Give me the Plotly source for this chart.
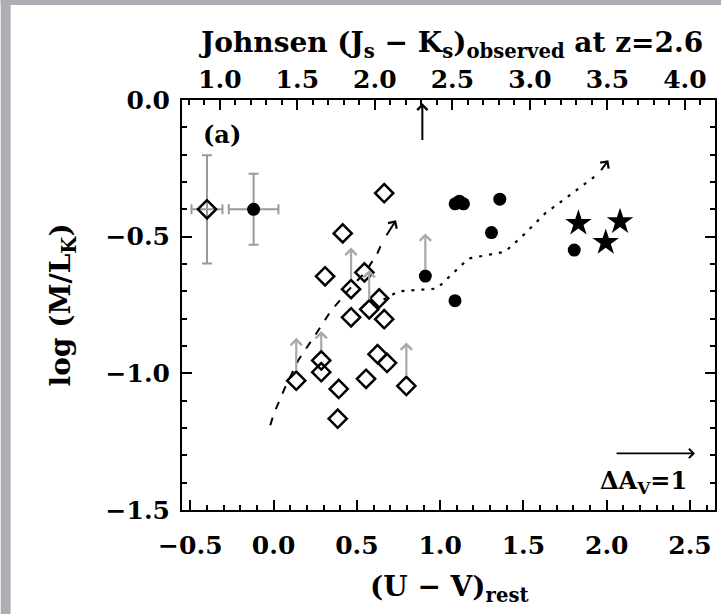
import plotly.graph_objects as go

# ---------------- data ----------------
diamond_x = [0.664, 0.415, 0.309, 0.545, 0.465, 0.634, 0.574, 0.465, 0.664,
             0.286, 0.286, 0.136, 0.391, 0.385, 0.555, 0.624, 0.681, 0.797]
diamond_y = [-0.341, -0.488, -0.645, -0.631, -0.692, -0.726, -0.766, -0.795, -0.802,
             -0.953, -0.996, -1.027, -1.057, -1.166, -1.020, -0.930, -0.962, -1.046]

circle_x = [0.911, 1.089, 1.090, 1.115, 1.140, 1.358, 1.308, 1.805]
circle_y = [-0.644, -0.734, -0.380, -0.370, -0.380, -0.363, -0.485, -0.549]

star_x = [1.830, 1.994, 2.080]
star_y = [-0.451, -0.521, -0.445]

# points with error bars
err_diamond = dict(x=[-0.40], y=[-0.40], ex=[0.093], ey=[0.198])
err_circle = dict(x=[-0.12], y=[-0.40], ex=[0.149], ey=[0.13])

# lower limits (grey arrows): x, base y, tip y
limit_x = [0.136, 0.286, 0.465, 0.574, 0.797, 0.911]
limit_y0 = [-0.995, -0.920, -0.660, -0.735, -1.013, -0.625]
limit_y1 = [-0.870, -0.845, -0.540, -0.622, -0.887, -0.488]

# black arrow (off-scale object)
top_arrow_x = [0.893]
top_arrow_y0 = [-0.152]
top_arrow_y1 = [-0.012]

# model tracks
dash_x = [-0.02, 0.0, 0.07, 0.15, 0.25, 0.34, 0.45, 0.55, 0.62, 0.66]
dash_y = [-1.19, -1.15, -1.05, -0.95, -0.86, -0.775, -0.695, -0.63, -0.565, -0.51]
dot_x = [0.66, 0.75, 0.98, 1.17, 1.39, 1.49, 1.63, 1.87, 1.95]
dot_y = [-0.73, -0.70, -0.69, -0.58, -0.555, -0.50, -0.415, -0.305, -0.27]

# extinction vector
av_x = [2.05, 2.53]
av_y = [-1.293, -1.293]

x_range = [-0.55, 2.65]
x2_range = [0.756, 4.194]
y_range = [-1.5, 0.0]

FONT = "DejaVu Serif"
GREY = "#9a9a9a"
LGREY = "#a8a8a8"
BG = "#afadb4"

# plot-area geometry in pixels (for the outer frame only)
L, R, T, B = 182, 6, 100, 104
PW, PH = 723 - L - R, 614 - T - B

fig = go.Figure()

fig.add_trace(go.Scatter(x=dash_x, y=dash_y, mode="lines",
                         line=dict(color="black", width=2, dash="8px,9px"),
                         showlegend=False, hoverinfo="skip"))
fig.add_trace(go.Scatter(x=dot_x, y=dot_y, mode="lines",
                         line=dict(color="black", width=2.2, dash="3px,7px"),
                         showlegend=False, hoverinfo="skip"))

fig.add_trace(go.Scatter(x=diamond_x, y=diamond_y, mode="markers",
                         marker=dict(symbol="diamond-open", size=14, color="black",
                                     line=dict(width=2.5, color="black")),
                         showlegend=False))
fig.add_trace(go.Scatter(x=circle_x, y=circle_y, mode="markers",
                         marker=dict(symbol="circle", size=13, color="black"),
                         showlegend=False))
fig.add_trace(go.Scatter(x=star_x, y=star_y, mode="markers",
                         marker=dict(symbol="star", size=20, color="black"),
                         showlegend=False))

fig.add_trace(go.Scatter(x=err_diamond["x"], y=err_diamond["y"], mode="markers",
                         marker=dict(symbol="diamond-open", size=14, color="black",
                                     line=dict(width=2.5, color="black")),
                         error_x=dict(type="data", array=err_diamond["ex"], color=GREY,
                                      thickness=2, width=5),
                         error_y=dict(type="data", array=err_diamond["ey"], color=GREY,
                                      thickness=2, width=5),
                         showlegend=False))
fig.add_trace(go.Scatter(x=err_circle["x"], y=err_circle["y"], mode="markers",
                         marker=dict(symbol="circle", size=13, color="black"),
                         error_x=dict(type="data", array=err_circle["ex"], color=GREY,
                                      thickness=2, width=5),
                         error_y=dict(type="data", array=err_circle["ey"], color=GREY,
                                      thickness=2, width=5),
                         showlegend=False))

# dummy trace for the top axis
fig.add_trace(go.Scatter(x=x2_range, y=[None, None], xaxis="x2", yaxis="y",
                         mode="markers", showlegend=False, hoverinfo="skip"))

annotations = []
for xx, y0, y1 in zip(limit_x, limit_y0, limit_y1):
    annotations.append(dict(x=xx, y=y1, ax=xx, ay=y0, xref="x", yref="y",
                            axref="x", ayref="y", text="", showarrow=True,
                            arrowhead=4, arrowsize=1, arrowwidth=2.2,
                            arrowcolor=LGREY, standoff=0, startstandoff=0))
for xx, y0, y1 in zip(top_arrow_x, top_arrow_y0, top_arrow_y1):
    annotations.append(dict(x=xx, y=y1, ax=xx, ay=y0, xref="x", yref="y",
                            axref="x", ayref="y", text="", showarrow=True,
                            arrowhead=4, arrowsize=1, arrowwidth=2,
                            arrowcolor="black", standoff=0, startstandoff=0))
# arrow heads of the model tracks
annotations.append(dict(x=0.735, y=-0.44, ax=0.672, ay=-0.50, xref="x", yref="y",
                        axref="x", ayref="y", text="", showarrow=True, arrowhead=4,
                        arrowsize=1, arrowwidth=2, arrowcolor="black",
                        standoff=0, startstandoff=0))
annotations.append(dict(x=2.01, y=-0.22, ax=1.96, ay=-0.262, xref="x", yref="y",
                        axref="x", ayref="y", text="", showarrow=True, arrowhead=4,
                        arrowsize=1, arrowwidth=2, arrowcolor="black",
                        standoff=0, startstandoff=0))
# extinction arrow
annotations.append(dict(x=av_x[1], y=av_y[1], ax=av_x[0], ay=av_y[0], xref="x", yref="y",
                        axref="x", ayref="y", text="", showarrow=True, arrowhead=4,
                        arrowsize=1, arrowwidth=1.8, arrowcolor="black",
                        standoff=0, startstandoff=0))
annotations.append(dict(x=2.22, y=-1.397, xref="x", yref="y", text="ΔA<sub>V</sub>=1",
                        showarrow=False, xanchor="center", yanchor="middle",
                        font=dict(family=FONT, size=24, color="black", weight="bold")))
annotations.append(dict(x=-0.31, y=-0.125, xref="x", yref="y", text="(a)",
                        showarrow=False, xanchor="center", yanchor="middle",
                        font=dict(family=FONT, size=24, color="black", weight="bold")))

# axis titles
TFONT = dict(family=FONT, size=28, color="black", weight="bold")
annotations.append(dict(x=0.5, y=(510 - 588) / PH, xref="paper", yref="paper",
                        text="(U − V)<sub>rest</sub>", showarrow=False,
                        xanchor="center", yanchor="middle", font=TFONT))
annotations.append(dict(x=(452 - L) / PW, y=(510 - 44) / PH, xref="paper", yref="paper",
                        text="Johnsen (J<sub>s</sub> − K<sub>s</sub>)<sub>observed</sub> at z=2.6",
                        showarrow=False, xanchor="center", yanchor="middle", font=TFONT))
annotations.append(dict(x=(62 - L) / PW, y=0.5, xref="paper", yref="paper",
                        text="log (M/L<sub>K</sub>)", showarrow=False, textangle=-90,
                        xanchor="center", yanchor="middle", font=TFONT))

axis_common = dict(showgrid=False, zeroline=False, showline=True, linewidth=2,
                   linecolor="black", ticks="inside", ticklen=10, tickwidth=2,
                   tickcolor="black", tickformat=".1f",
                   tickfont=dict(family=FONT, size=25, color="black", weight="bold"))

fig.update_layout(
    width=723, height=614, autosize=False,
    margin=dict(l=L, r=R, t=T, b=B),
    paper_bgcolor="white", plot_bgcolor="white",
    xaxis=dict(range=x_range, tickmode="linear", tick0=-0.5, dtick=0.5, mirror=False,
               ticklabelstandoff=12,
               minor=dict(tickmode="linear", tick0=-0.5, dtick=0.1, ticks="inside",
                          ticklen=5, tickwidth=1.5, tickcolor="black"),
               **axis_common),
    xaxis2=dict(range=x2_range, overlaying="x", side="top", anchor="y",
                tickmode="linear", tick0=1.0, dtick=0.5, ticklabelstandoff=0,
                minor=dict(tickmode="linear", tick0=1.0, dtick=0.1, ticks="inside",
                           ticklen=5, tickwidth=1.5, tickcolor="black"),
                **axis_common),
    yaxis=dict(range=y_range, tickmode="linear", tick0=0.0, dtick=0.5, mirror="ticks",
               ticklabelstandoff=5,
               minor=dict(tickmode="linear", tick0=0.0, dtick=0.1, ticks="inside",
                          ticklen=5, tickwidth=1.5, tickcolor="black"),
               **axis_common),
    annotations=annotations,
    shapes=[
        # grey outer frame (left strip and top strip)
        dict(type="rect", xref="paper", yref="paper", layer="below",
             x0=-L / PW, x1=(10 - L) / PW, y0=-B / PH, y1=(T + PH) / PH,
             fillcolor=BG, line=dict(width=0)),
        dict(type="rect", xref="paper", yref="paper", layer="below",
             x0=-L / PW, x1=(723 - L) / PW, y0=(510 - 5) / PH, y1=510 / PH,
             fillcolor=BG, line=dict(width=0)),
        # white right margin
        dict(type="rect", xref="paper", yref="paper", layer="above",
             x0=(719 - L) / PW, x1=(730 - L) / PW, y0=-B / PH, y1=(510 - 5) / PH,
             fillcolor="white", line=dict(width=0)),
    ],
)

fig.write_html(
    "out.html",
    config={"displayModeBar": False},
    post_script="document.body.style.margin='0';",
)
